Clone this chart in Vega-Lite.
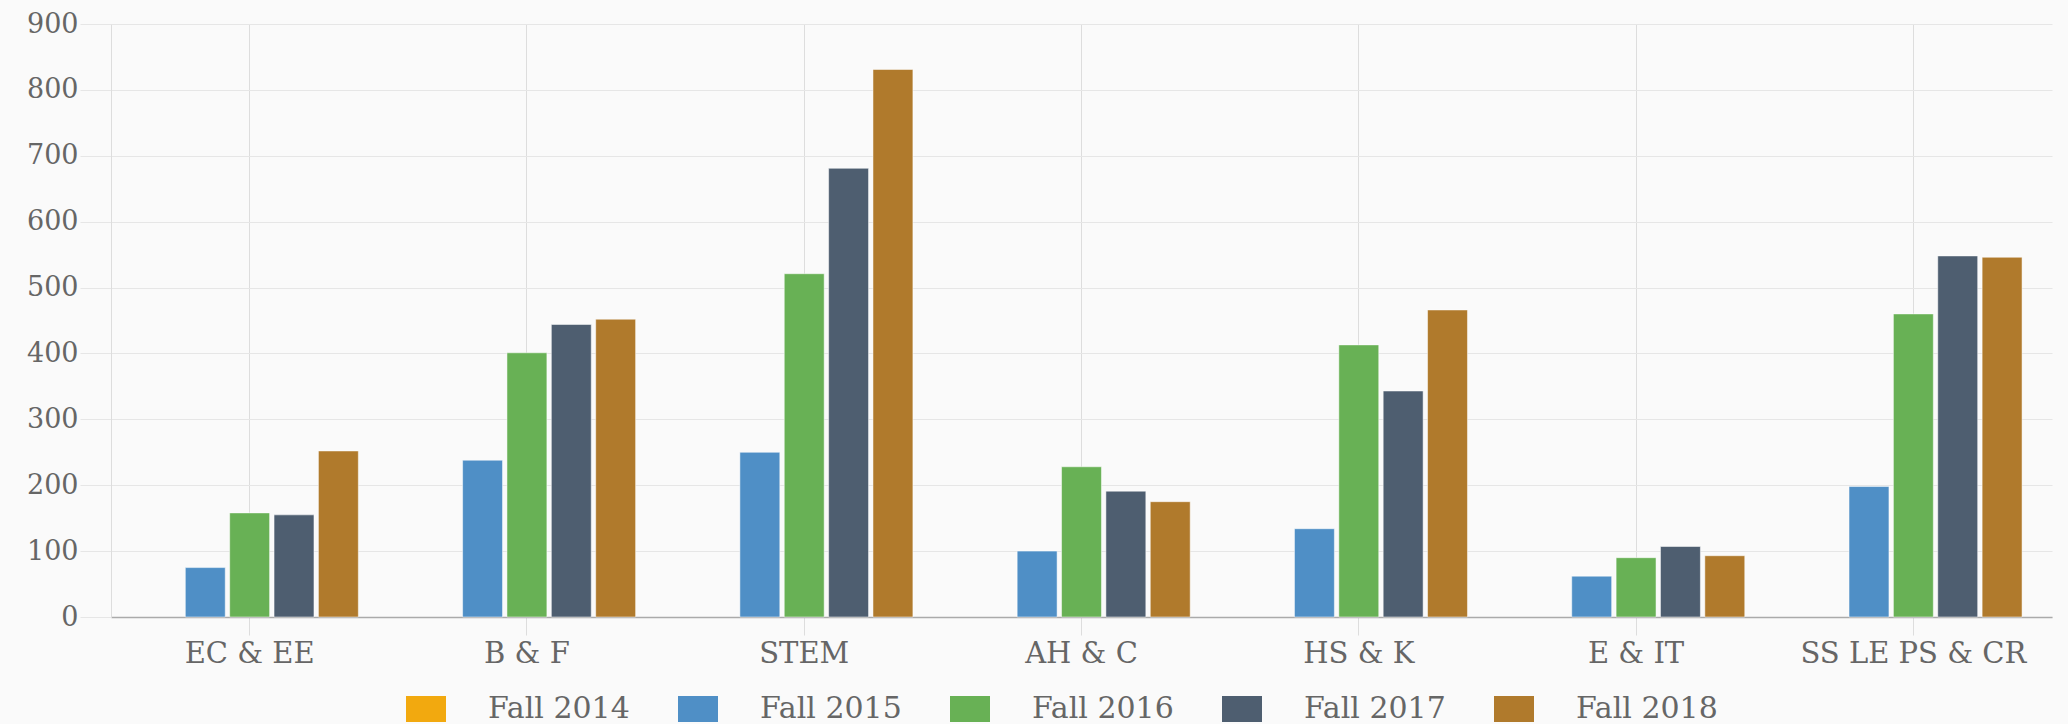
{
  "$schema": "https://vega.github.io/schema/vega-lite/v6.json",
  "autosize": {"type": "none"},
  "padding": {"left": 111, "top": 24, "right": 16, "bottom": 107},
  "width": 1941,
  "height": 593,
  "background": "#fafafa",
  "data": {
    "values": [
      {"cat": "EC & EE", "term": "Fall 2015", "n": 75},
      {"cat": "EC & EE", "term": "Fall 2016", "n": 158},
      {"cat": "EC & EE", "term": "Fall 2017", "n": 155},
      {"cat": "EC & EE", "term": "Fall 2018", "n": 252},
      {"cat": "B & F", "term": "Fall 2015", "n": 238},
      {"cat": "B & F", "term": "Fall 2016", "n": 401},
      {"cat": "B & F", "term": "Fall 2017", "n": 444},
      {"cat": "B & F", "term": "Fall 2018", "n": 452},
      {"cat": "STEM", "term": "Fall 2015", "n": 250},
      {"cat": "STEM", "term": "Fall 2016", "n": 521},
      {"cat": "STEM", "term": "Fall 2017", "n": 681},
      {"cat": "STEM", "term": "Fall 2018", "n": 831},
      {"cat": "AH & C", "term": "Fall 2015", "n": 100},
      {"cat": "AH & C", "term": "Fall 2016", "n": 228},
      {"cat": "AH & C", "term": "Fall 2017", "n": 191},
      {"cat": "AH & C", "term": "Fall 2018", "n": 175},
      {"cat": "HS & K", "term": "Fall 2015", "n": 134},
      {"cat": "HS & K", "term": "Fall 2016", "n": 413},
      {"cat": "HS & K", "term": "Fall 2017", "n": 343},
      {"cat": "HS & K", "term": "Fall 2018", "n": 466},
      {"cat": "E & IT", "term": "Fall 2015", "n": 62},
      {"cat": "E & IT", "term": "Fall 2016", "n": 90},
      {"cat": "E & IT", "term": "Fall 2017", "n": 107},
      {"cat": "E & IT", "term": "Fall 2018", "n": 93},
      {"cat": "SS LE PS & CR", "term": "Fall 2015", "n": 198},
      {"cat": "SS LE PS & CR", "term": "Fall 2016", "n": 460},
      {"cat": "SS LE PS & CR", "term": "Fall 2017", "n": 548},
      {"cat": "SS LE PS & CR", "term": "Fall 2018", "n": 546}
    ]
  },
  "mark": {"type": "bar", "stroke": "#ffffff", "strokeOpacity": 0.5, "strokeWidth": 1},
  "encoding": {
    "x": {
      "field": "cat",
      "type": "nominal",
      "sort": null,
      "scale": {"paddingInner": 0.2, "paddingOuter": 0.1},
      "axis": {
        "title": null,
        "labelAngle": 0,
        "labelLimit": 0,
        "labelFont": "DejaVu Serif",
        "labelFontSize": 29,
        "labelColor": "#666666",
        "labelPadding": 4,
        "bandPosition": 0.5,
        "grid": true,
        "gridColor": "#dddddd",
        "ticks": true,
        "tickColor": "#dddddd",
        "tickSize": 18,
        "domainColor": "#aaaaaa",
        "domainWidth": 1.5
      }
    },
    "xOffset": {
      "field": "term",
      "type": "nominal",
      "scale": {
        "domain": ["Fall 2014", "Fall 2015", "Fall 2016", "Fall 2017", "Fall 2018"],
        "paddingInner": 0.1,
        "paddingOuter": 0.05
      }
    },
    "y": {
      "field": "n",
      "type": "quantitative",
      "scale": {"domain": [0, 900], "nice": false},
      "axis": {
        "title": null,
        "values": [0, 100, 200, 300, 400, 500, 600, 700, 800, 900],
        "labelFont": "DejaVu Serif",
        "labelFontSize": 27,
        "labelColor": "#666666",
        "labelPadding": 2,
        "grid": true,
        "gridColor": "#e6e6e6",
        "tickColor": "#e6e6e6",
        "tickSize": 31,
        "domain": true,
        "domainColor": "#dddddd"
      }
    },
    "color": {
      "field": "term",
      "type": "nominal",
      "scale": {
        "domain": ["Fall 2014", "Fall 2015", "Fall 2016", "Fall 2017", "Fall 2018"],
        "range": ["#f2a90f", "#4f8fc6", "#68b155", "#4e5e70", "#b07a2c"]
      },
      "legend": {
        "title": null,
        "orient": "none",
        "legendX": 295,
        "legendY": 665,
        "direction": "horizontal",
        "columns": 5,
        "padding": 0,
        "symbolType": "M-1,-0.65H1V0.65H-1Z",
        "symbolSize": 1600,
        "symbolStrokeWidth": 0,
        "symbolOpacity": 1,
        "labelFont": "DejaVu Serif",
        "labelFontSize": 30,
        "labelColor": "#666666",
        "labelOffset": 42,
        "columnPadding": 48
      }
    }
  },
  "config": {"view": {"stroke": null}}
}
